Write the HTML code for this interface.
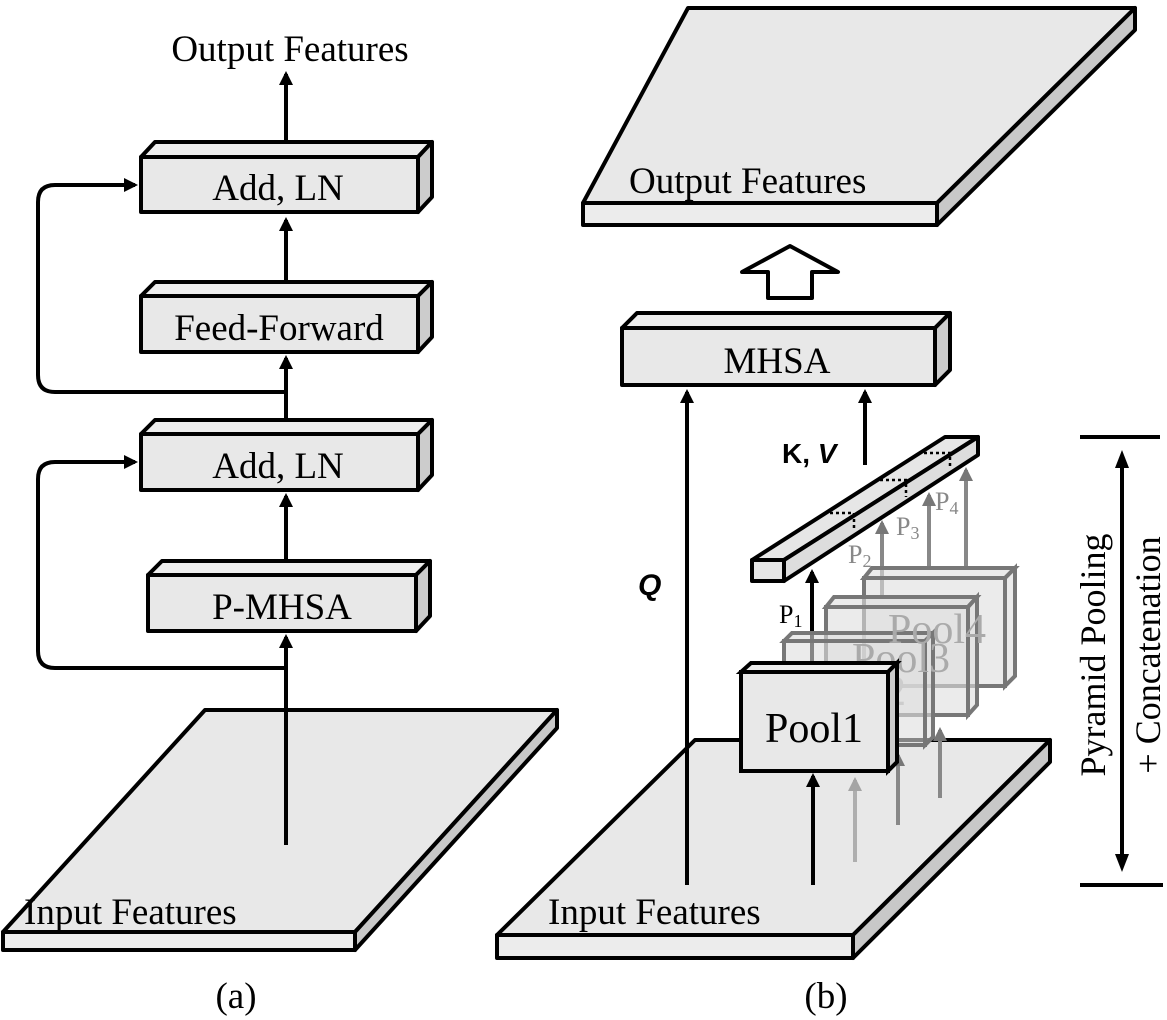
<!DOCTYPE html>
<html><head><style>body{margin:0;background:#fff}svg{display:block}text{font-family:"Liberation Serif",serif}</style></head>
<body>
<svg width="1167" height="1020" viewBox="0 0 1167 1020" xmlns="http://www.w3.org/2000/svg">
<defs>
<marker id="a" markerWidth="14" markerHeight="14" refX="11" refY="7" orient="auto" markerUnits="userSpaceOnUse" viewBox="0 0 14 14"><path d="M0,0 L14,7 L0,14 z" fill="#000"/></marker>
<marker id="ag" markerWidth="14" markerHeight="14" refX="11" refY="7" orient="auto" markerUnits="userSpaceOnUse" viewBox="0 0 14 14"><path d="M0,0 L14,7 L0,14 z" fill="#777"/></marker>
</defs>
<g stroke="#000" stroke-width="4" stroke-linejoin="round">
<polygon points="205,710 557,710 355,932 3,932" fill="#e8e8e8"/>
<polygon points="3,932 355,932 355,950 3,950" fill="#ececec"/>
<polygon points="355,932 557,710 557,728 355,950" fill="#c8c8c8"/>
<polygon points="695,740 1050,740 853,935 497,935" fill="#e8e8e8"/>
<polygon points="497,935 853,935 853,958 497,958" fill="#ececec"/>
<polygon points="853,935 1050,740 1050,762 853,958" fill="#c8c8c8"/>
<polygon points="688,8 1135,8 937,203 583,203" fill="#e8e8e8"/>
<polygon points="583,203 937,203 937,225 583,225" fill="#ececec"/>
<polygon points="937,203 1135,8 1135,30 937,225" fill="#c8c8c8"/>
</g>
<g stroke="#000" stroke-width="4" stroke-linejoin="round">
<g><polygon points="141,157 155,142 432,142 418,157" fill="#eee"/><polygon points="418,157 432,142 432,197 418,212" fill="#ccc"/><rect x="141" y="157" width="277" height="55" fill="#e8e8e8"/></g>
<g><polygon points="141,296 155,282 432,282 418,296" fill="#eee"/><polygon points="418,296 432,282 432,337 418,352" fill="#ccc"/><rect x="141" y="296" width="277" height="56" fill="#e8e8e8"/></g>
<g><polygon points="141,434 155,420 432,420 418,434" fill="#eee"/><polygon points="418,434 432,420 432,475 418,490" fill="#ccc"/><rect x="141" y="434" width="277" height="56" fill="#e8e8e8"/></g>
<g><polygon points="148,575 162,561 430,561 416,575" fill="#eee"/><polygon points="416,575 430,561 430,616 416,631" fill="#ccc"/><rect x="148" y="575" width="268" height="56" fill="#e8e8e8"/></g>
<g><polygon points="622,328 637,313 950,313 935,328" fill="#eee"/><polygon points="935,328 950,313 950,370 935,385" fill="#ccc"/><rect x="622" y="328" width="313" height="57" fill="#e8e8e8"/></g>
</g>
<g stroke="#000" stroke-width="4" fill="none">
<line x1="286" y1="140" x2="286" y2="74" marker-end="url(#a)"/>
<line x1="286" y1="280" x2="286" y2="220" marker-end="url(#a)"/>
<line x1="286" y1="418" x2="286" y2="358" marker-end="url(#a)"/>
<line x1="286" y1="559" x2="286" y2="496" marker-end="url(#a)"/>
<line x1="286" y1="845" x2="286" y2="637" marker-end="url(#a)"/>
<path d="M286,392 L55,392 Q38,392 38,375 L38,202 Q38,185 55,185 L135,185" marker-end="url(#a)"/>
<path d="M286,668 L55,668 Q38,668 38,651 L38,479 Q38,462 55,462 L135,462" marker-end="url(#a)"/>
<line x1="687" y1="885" x2="687" y2="392" marker-end="url(#a)"/>
<line x1="865" y1="465" x2="865" y2="392" marker-end="url(#a)"/>
<line x1="813" y1="885" x2="813" y2="776" marker-end="url(#a)"/>
<line x1="812" y1="672" x2="812" y2="572" marker-end="url(#a)"/>
</g>
<polygon points="790,246 838,272 812,272 812,298 768,298 768,272 742,272" fill="#fff" stroke="#000" stroke-width="4" stroke-linejoin="round"/>
<g stroke="#888" stroke-width="4" fill="none">
<line x1="855" y1="862" x2="855" y2="780" marker-end="url(#ag)" opacity="0.6"/>
<line x1="898" y1="825" x2="898" y2="755" marker-end="url(#ag)"/>
<line x1="940" y1="798" x2="940" y2="730" marker-end="url(#ag)"/>
<line x1="882" y1="598" x2="882" y2="523" marker-end="url(#ag)"/>
<line x1="929" y1="567" x2="929" y2="495" marker-end="url(#ag)"/>
<line x1="966" y1="567" x2="966" y2="470" marker-end="url(#ag)"/>
</g>
<g stroke="#777" stroke-width="4" fill="#ddd" fill-opacity="0.6">
<polygon points="864,578 872,568 1015,568 1005,578" /><polygon points="1005,578 1015,568 1015,676 1005,686"/><rect x="864" y="578" width="141" height="108"/>
<polygon points="826,607 834,597 977,597 968,607"/><polygon points="968,607 977,597 977,705 968,715"/><rect x="826" y="607" width="142" height="108"/>
<polygon points="784,641 792,633 933,633 925,641"/><polygon points="925,641 933,633 933,737 925,745"/><rect x="784" y="641" width="141" height="104"/>
</g>
<text x="888" y="643" font-size="42" fill="#aaa">Pool4</text>
<text x="852" y="672" font-size="42" fill="#aaa">Pool3</text>
<text x="808" y="705" font-size="42" fill="#ccc">Pool2</text>
<g stroke="#000" stroke-width="4"><polygon points="741,672 751,663 897,663 888,672" fill="#eee"/><polygon points="888,672 897,663 897,762 888,771" fill="#ccc"/><rect x="741" y="672" width="147" height="99" fill="#e8e8e8"/></g>
<g stroke="#000" stroke-width="4" stroke-linejoin="round">
<polygon points="752,560 945,437 978,437 784,560" fill="#e6e6e6"/>
<polygon points="784,560 978,437 978,455 784,581" fill="#ddd"/>
<rect x="752" y="560" width="32" height="21" fill="#e6e6e6"/>
</g>
<g stroke="#000" stroke-width="2.5" stroke-dasharray="3,3" fill="none">
<path d="M830,513 L854,513 L854,530"/><path d="M880,480 L906,480 L906,497"/><path d="M924,453 L950,453 L950,469"/>
</g>
<g font-size="37">
<text x="290" y="61" text-anchor="middle">Output Features</text>
<text x="278" y="200" text-anchor="middle">Add, LN</text>
<text x="279" y="340" text-anchor="middle">Feed-Forward</text>
<text x="278" y="478" text-anchor="middle">Add, LN</text>
<text x="282" y="619" text-anchor="middle">P-MHSA</text>
<text x="24" y="924">Input Features</text>
<text x="236" y="1008" text-anchor="middle">(a)</text>
<text x="629" y="193">Output Features</text>
<text x="777" y="373" text-anchor="middle">MHSA</text>
<text x="548" y="924">Input Features</text>
<text x="826" y="1008" text-anchor="middle">(b)</text>
</g>
<text x="814" y="742" font-size="42" text-anchor="middle">Pool1</text>
<text x="782" y="463" font-size="28" font-weight="bold" style="font-family:'Liberation Sans',sans-serif">K, <tspan font-style="italic">V</tspan></text>
<text x="638" y="595" font-size="30" font-weight="bold" font-style="italic" style="font-family:'Liberation Sans',sans-serif">Q</text>
<text x="779" y="623" font-size="26">P<tspan font-size="18" dy="4">1</tspan></text>
<text x="848" y="563" font-size="26" fill="#888">P<tspan font-size="18" dy="4">2</tspan></text>
<text x="896" y="535" font-size="26" fill="#888">P<tspan font-size="18" dy="4">3</tspan></text>
<text x="935" y="510" font-size="26" fill="#888">P<tspan font-size="18" dy="4">4</tspan></text>
<g stroke="#000" stroke-width="4">
<line x1="1080" y1="437" x2="1160" y2="437"/><line x1="1080" y1="885" x2="1163" y2="885"/>
<line x1="1122" y1="462" x2="1122" y2="860"/>
</g>
<polygon points="1122,450 1115,468 1129,468" fill="#000"/>
<polygon points="1122,872 1115,854 1129,854" fill="#000"/>
<text transform="translate(1105,655) rotate(-90)" font-size="36" text-anchor="middle">Pyramid  Pooling</text>
<text transform="translate(1160,655) rotate(-90)" font-size="36" text-anchor="middle">+ Concatenation</text>
</svg>
</body></html>
